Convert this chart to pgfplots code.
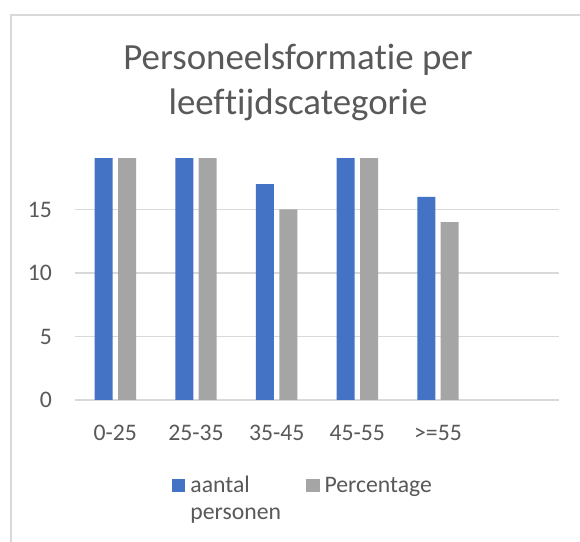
\documentclass[border=0pt]{standalone}
\usepackage{pgfplots}
\pgfplotsset{compat=1.18}
\usepackage{fontspec}
\setmainfont{Carlito}[Ligatures={NoCommon}]
\definecolor{txt}{HTML}{595959}
\definecolor{gridc}{HTML}{D9D9D9}
\definecolor{blu}{HTML}{4472C4}
\definecolor{gry}{HTML}{A5A5A5}
\begin{document}
\begin{tikzpicture}
\useasboundingbox (0bp,0bp) rectangle (580bp,542bp);
\fill[white] (0bp,0bp) rectangle (580bp,542bp);
\draw[gridc, line width=1.5bp] (11bp,0bp) -- (11bp,527bp) -- (580bp,527bp);
\node[anchor=base, text=txt, inner sep=0pt, font=\fontsize{36.9bp}{44bp}\selectfont] at (298bp,472bp) {Personeelsformatie per};
\node[anchor=base, text=txt, inner sep=0pt, font=\fontsize{36.9bp}{44bp}\selectfont] at (298bp,427bp) {leeftijdscategorie};
\begin{axis}[
  at={(75bp,142bp)}, anchor=south west,
  scale only axis, width=484bp, height=241.3bp,
  ybar=5.4bp, bar width=18bp,
  xmin=-0.5, xmax=5.5, ymin=0, ymax=19,
  xtick={0,1,2,3,4}, xticklabels={0-25,25-35,35-45,45-55,>=55},
  ytick={0,5,10,15},
  ymajorgrids, grid style={gridc, line width=1.3bp},
  axis line style={draw=none},
  major tick length=0pt,
  tick label style={text=txt, font=\fontsize{23.7bp}{28.4bp}\selectfont},
  /pgf/number format/assume math mode=true,
  yticklabel style={anchor=east, inner sep=0pt, xshift=-23bp},
  xticklabel style={anchor=base, inner sep=0pt, yshift=-40bp},
  legend columns=2,
  legend cell align=left,
  legend style={draw=none, fill=none, inner sep=0pt, outer sep=0pt,
    at={(0.2004,-0.315)}, anchor=north west, text=txt,
    font=\fontsize{23.7bp}{27.5bp}\selectfont,
    nodes={inner sep=0pt, anchor=base},
    /tikz/every odd column/.append style={column sep=5bp},
    /tikz/every even column/.append style={column sep=25bp}},
  legend image code/.code={\fill[#1] (0bp,0bp) rectangle (13.5bp,13.5bp);},
]
\addplot[fill=blu, draw=none, legend image code/.code={\fill[blu] (0bp,0bp) rectangle (13.5bp,13.5bp);}] coordinates {(0,20) (1,20) (2,17) (3,20) (4,16)};
\addlegendentry{\vtop{\hbox{aantal}\hbox{personen}}}
\addplot[fill=gry, draw=none, legend image code/.code={\fill[gry] (0bp,0bp) rectangle (13.5bp,13.5bp);}] coordinates {(0,20) (1,20) (2,15) (3,20) (4,14)};
\addlegendentry{Percentage}
\end{axis}
\end{tikzpicture}
\end{document}
